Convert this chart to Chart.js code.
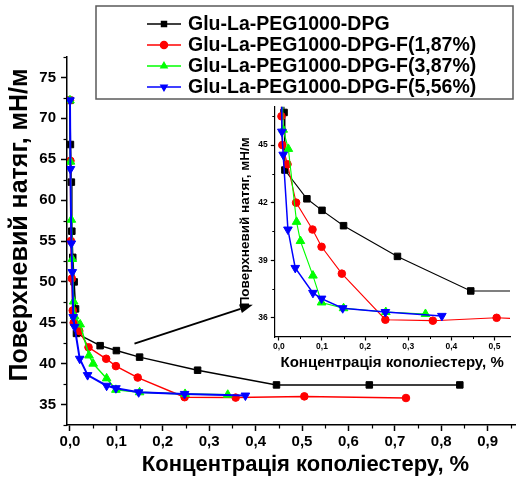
<!DOCTYPE html>
<html>
<head>
<meta charset="utf-8">
<script src="https://cdn.jsdelivr.net/npm/chart.js@4.4.1/dist/chart.umd.min.js"></script>
<style>
  html, body { margin: 0; padding: 0; background: #fff; }
  #wrap { position: relative; width: 516px; height: 480px; overflow: hidden; }
  #main { position: absolute; left: 0; top: 0; }
  #inset { position: absolute; left: 230px; top: 95px; }
</style>
</head>
<body>
<div id="wrap">
  <canvas id="main" width="550" height="480"></canvas>
  <canvas id="inset" width="286" height="285"></canvas>
</div>
<script>
// Surface tension vs. copolyester concentration
const seriesNames = [
  'Glu-La-PEG1000-DPG',
  'Glu-La-PEG1000-DPG-F(1,87%)',
  'Glu-La-PEG1000-DPG-F(3,87%)',
  'Glu-La-PEG1000-DPG-F(5,56%)'
];

const concBlack = [0, 0.001, 0.003, 0.004, 0.006, 0.009, 0.012, 0.014, 0.065, 0.1, 0.15, 0.275, 0.445, 0.645, 0.84];
const tensBlack = [72.2, 66.8, 62.2, 56.2, 53.0, 50.0, 46.7, 43.7, 42.2, 41.6, 40.8, 39.2, 37.4, 37.4, 37.4];

const concRed = [0, 0.001, 0.002, 0.004, 0.006, 0.008, 0.02, 0.04, 0.078, 0.099, 0.146, 0.247, 0.357, 0.505, 0.724];
const tensRed = [72.2, 64.8, 55.0, 50.4, 46.5, 45.0, 44.0, 42.0, 40.6, 39.7, 38.3, 35.9, 35.85, 36.0, 35.8];

const concGreen = [0, 0.001, 0.003, 0.005, 0.008, 0.01, 0.022, 0.041, 0.05, 0.079, 0.099, 0.15, 0.248, 0.34];
const tensGreen = [72.2, 64.7, 57.6, 52.8, 47.6, 45.8, 44.8, 41.0, 40.0, 38.2, 36.8, 36.5, 36.3, 36.2];

const concBlue = [0, 0.001, 0.003, 0.005, 0.007, 0.01, 0.021, 0.038, 0.079, 0.099, 0.148, 0.247, 0.378];
const tensBlue = [72.2, 63.8, 54.7, 51.2, 45.7, 44.5, 40.6, 38.6, 37.3, 37.0, 36.5, 36.3, 36.1];

// Axis ticks
const mainXTicks = [0, 0.1, 0.2, 0.3, 0.4, 0.5, 0.6, 0.7, 0.8, 0.9];
const mainXMinor = [0.05, 0.15, 0.25, 0.35, 0.45, 0.55, 0.65, 0.75, 0.85, 0.95];
const mainYTicks = [35, 40, 45, 50, 55, 60, 65, 70, 75];
const mainYMinor = [32.5, 37.5, 42.5, 47.5, 52.5, 57.5, 62.5, 67.5, 72.5, 77.5];
const insetXTicks = [0, 0.1, 0.2, 0.3, 0.4, 0.5];
const insetXMinor = [0.05, 0.15, 0.25, 0.35, 0.45];
const insetYTicks = [36, 39, 42, 45];
const insetYMinor = [37.5, 40.5, 43.5, 46.5];

const yTitle = 'Поверхневий натяг, мН/м';
const xTitle = 'Концентрація кополіестеру, %';

const FONT = "'Liberation Sans', Arial, Helvetica, sans-serif";
const bold = (size) => ({ family: FONT, size: size, weight: 'bold' });
const comma1 = (v) => Number(v).toFixed(1).replace('.', ',');

const styles = [
  { color: '#000000', pointStyle: 'rect', rotation: 0, r: 4.6, lw: 1.5 },
  { color: '#ff0000', pointStyle: 'circle', rotation: 0, r: 3.8, lw: 1.5 },
  { color: '#00ff00', pointStyle: 'triangle', rotation: 0, r: 5, lw: 1.5 },
  { color: '#0000ff', pointStyle: 'triangle', rotation: 180, r: 5, lw: 2 }
];
const xsAll = [concBlack, concRed, concGreen, concBlue];
const ysAll = [tensBlack, tensRed, tensGreen, tensBlue];

function buildDatasets(lineScale) {
  return seriesNames.map((name, k) => ({
    label: name,
    data: xsAll[k].map((x, i) => ({ x: x, y: ysAll[k][i] })),
    showLine: true,
    borderColor: styles[k].color,
    backgroundColor: styles[k].color,
    pointBackgroundColor: styles[k].color,
    pointBorderColor: styles[k].color,
    pointBorderWidth: 1,
    pointStyle: styles[k].pointStyle,
    pointRotation: styles[k].rotation,
    pointRadius: styles[k].r,
    borderWidth: styles[k].lw * lineScale,
    tension: 0,
    order: 4 - k
  }));
}

// Short minor ticks on the outside of each axis
const minorTicks = {
  id: 'minorTicks',
  afterDraw(chart, args, opts) {
    const ctx = chart.ctx;
    ctx.save();
    ctx.strokeStyle = '#000';
    ctx.lineWidth = opts.width || 1;
    Object.keys(opts.scales || {}).forEach((id) => {
      const s = chart.scales[id];
      opts.scales[id].forEach((v) => {
        if (v < s.min || v > s.max) return;
        ctx.beginPath();
        if (s.isHorizontal()) {
          const px = Math.round(s.getPixelForValue(v)) + 0.5;
          ctx.moveTo(px, s.top);
          ctx.lineTo(px, s.top + opts.len);
        } else {
          const py = Math.round(s.getPixelForValue(v)) + 0.5;
          ctx.moveTo(s.right - opts.len, py);
          ctx.lineTo(s.right, py);
        }
        ctx.stroke();
      });
    });
    ctx.restore();
  }
};

// Vertical axis title placed beside the y axis
const sideTitle = {
  id: 'sideTitle',
  afterDraw(chart, args, opts) {
    const ctx = chart.ctx;
    ctx.save();
    ctx.translate(opts.x, opts.y);
    ctx.rotate(-Math.PI / 2);
    ctx.font = 'bold ' + opts.size + 'px ' + FONT;
    ctx.fillStyle = '#000';
    ctx.textAlign = 'center';
    ctx.textBaseline = 'middle';
    ctx.fillText(opts.text, 0, 0);
    ctx.restore();
  }
};

// Framed legend: line + marker + label for each series
const boxedLegend = {
  id: 'boxedLegend',
  afterDraw(chart, args, opts) {
    const ctx = chart.ctx;
    ctx.save();
    ctx.strokeStyle = '#5a5a5a';
    ctx.lineWidth = 1.5;
    ctx.strokeRect(opts.left, opts.top, opts.width, opts.height);
    ctx.font = 'bold ' + opts.fontSize + 'px ' + FONT;
    ctx.textBaseline = 'middle';
    ctx.textAlign = 'left';
    chart.data.datasets.forEach((ds, k) => {
      const y = opts.firstRow + k * opts.rowStep;
      const st = styles[k];
      ctx.strokeStyle = st.color;
      ctx.fillStyle = st.color;
      ctx.lineWidth = 1.5;
      ctx.beginPath();
      ctx.moveTo(opts.symX0, y);
      ctx.lineTo(opts.symX1, y);
      ctx.stroke();
      Chart.helpers.drawPoint(ctx, {
        pointStyle: st.pointStyle, rotation: st.rotation, radius: opts.markR, borderWidth: 1
      }, (opts.symX0 + opts.symX1) / 2, y);
      ctx.fillStyle = '#000';
      ctx.fillText(ds.label, opts.textX, y + 1);
    });
    ctx.restore();
  }
};

// Arrow pointing from the main curves to the enlarged view
const zoomArrow = {
  id: 'zoomArrow',
  afterDatasetsDraw(chart, args, opts) {
    const sx = chart.scales.x, sy = chart.scales.y;
    const x0 = sx.getPixelForValue(opts.from[0]), y0 = sy.getPixelForValue(opts.from[1]);
    const x1 = sx.getPixelForValue(opts.to[0]), y1 = sy.getPixelForValue(opts.to[1]);
    const ang = Math.atan2(y1 - y0, x1 - x0);
    const headL = 13, headW = 4.5;
    const bx = x1 - headL * Math.cos(ang), by = y1 - headL * Math.sin(ang);
    const ctx = chart.ctx;
    ctx.save();
    ctx.strokeStyle = '#000';
    ctx.fillStyle = '#000';
    ctx.lineWidth = 2;
    ctx.beginPath();
    ctx.moveTo(x0, y0);
    ctx.lineTo(bx, by);
    ctx.stroke();
    ctx.beginPath();
    ctx.moveTo(x1, y1);
    ctx.lineTo(bx + headW * Math.sin(ang), by - headW * Math.cos(ang));
    ctx.lineTo(bx - headW * Math.sin(ang), by + headW * Math.cos(ang));
    ctx.closePath();
    ctx.fill();
    ctx.restore();
  }
};

function axis(opts) {
  return {
    type: 'linear',
    min: opts.min,
    max: opts.max,
    afterBuildTicks: (s) => { s.ticks = opts.ticks.map((v) => ({ value: v })); },
    afterFit: opts.fit,
    ticks: {
      callback: opts.fmt,
      font: bold(opts.tickSize),
      color: '#000',
      padding: opts.tickPad,
      autoSkip: false,
      maxRotation: 0,
      minRotation: 0
    },
    grid: {
      drawOnChartArea: false,
      tickLength: opts.tickLen,
      tickColor: '#000',
      tickWidth: opts.borderW
    },
    border: { color: '#000', width: opts.borderW },
    title: {
      display: !!opts.title,
      text: opts.title || '',
      font: bold(opts.titleSize || 12),
      color: '#000',
      padding: opts.titlePad || 0
    }
  };
}

new Chart(document.getElementById('main'), {
  type: 'scatter',
  data: { datasets: buildDatasets(1) },
  plugins: [minorTicks, boxedLegend, zoomArrow, sideTitle],
  options: {
    responsive: false,
    animation: false,
    devicePixelRatio: 1,
    layout: { padding: { top: 57, right: 3, left: 0, bottom: 0 } },
    plugins: {
      legend: { display: false },
      tooltip: { enabled: false },
      minorTicks: { scales: { x: mainXMinor, y: mainYMinor }, len: 3.5, width: 1.2 },
      boxedLegend: {
        left: 96, top: 6, width: 417, height: 93,
        firstRow: 24, rowStep: 21, symX0: 147, symX1: 181, textX: 188,
        fontSize: 19.5, markR: 3.5
      },
      zoomArrow: { from: [0.139, 42.45], to: [0.394, 47.2] },
      sideTitle: { text: yTitle, x: 20, y: 225, size: 25 }
    },
    scales: {
      x: axis({
        min: -0.0064, max: 1.0214, ticks: mainXTicks, fmt: (v) => comma1(v),
        tickSize: 15, tickPad: 2, tickLen: 6, borderW: 1.5,
        title: xTitle, titleSize: 22, titlePad: { top: 0, bottom: 2 },
        fit: (s) => { s.height = 55; }
      }),
      y: axis({
        min: 32.5, max: 77.5, ticks: mainYTicks, fmt: (v) => String(v),
        tickSize: 15, tickPad: 5, tickLen: 6, borderW: 1.5,
        fit: (s) => { s.width = 67; }
      })
    }
  }
});

new Chart(document.getElementById('inset'), {
  type: 'scatter',
  data: { datasets: buildDatasets(0.75) },
  plugins: [minorTicks],
  options: {
    responsive: false,
    animation: false,
    devicePixelRatio: 1,
    layout: { padding: { top: 11.7, right: 0, left: 0, bottom: 0 } },
    plugins: {
      legend: { display: false },
      tooltip: { enabled: false },
      minorTicks: { scales: { x: insetXMinor, y: insetYMinor }, len: 2, width: 1 }
    },
    scales: {
      x: axis({
        min: -0.0106, max: 0.536, ticks: insetXTicks, fmt: (v) => comma1(v),
        tickSize: 8.5, tickPad: 1, tickLen: 3.5, borderW: 1.2,
        title: xTitle, titleSize: 15, titlePad: { top: 0, bottom: 8 },
        fit: (s) => { s.height = 43; }
      }),
      y: axis({
        min: 35, max: 47, ticks: insetYTicks, fmt: (v) => String(v),
        tickSize: 8.5, tickPad: 3, tickLen: 3.5, borderW: 1.2,
        title: yTitle, titleSize: 13.5, titlePad: { top: 7, bottom: 0 },
        fit: (s) => { s.width = 44.3; }
      })
    }
  }
});
</script>
</body>
</html>
